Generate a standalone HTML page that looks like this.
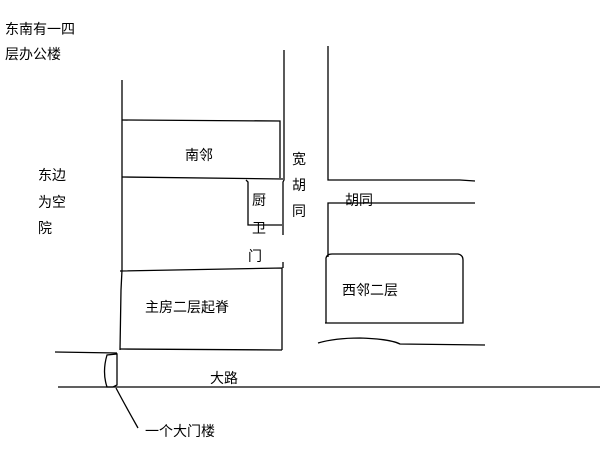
<!DOCTYPE html>
<html><head><meta charset="utf-8"><style>
html,body{margin:0;padding:0;background:#fff;}
svg{display:block;}
text{font-family:"Liberation Sans","Noto Sans CJK SC",sans-serif;font-size:14px;fill:#000;}
</style></head><body>
<svg width="614" height="460" viewBox="0 0 614 460" xmlns="http://www.w3.org/2000/svg">
<g fill="none" stroke="#000" stroke-width="1.3">
<!-- left long line -->
<path d="M122 80 L122 270 L121 290 L120 350"/>
<!-- south neighbor -->
<path d="M122 120 L280 121 L280 178"/>
<path d="M122 177 L283 179"/>
<!-- wide hutong left line -->
<path d="M284 50 L284 180 L283 182 L283 235"/>
<path d="M283 262 L283 268"/>
<!-- kitchen -->
<path d="M246 180 L248 182 L248 225 L282 225"/>
<!-- main house -->
<path d="M120 271 L282 268 L282 350"/>
<path d="M120 349 L282 350"/>
<!-- right block -->
<path d="M328 46 L328 180 L460 180 L475 181"/>
<path d="M328 257 L328 203 L475 203"/>
<!-- west neighbor -->
<path d="M326 323 L326 258 Q327 254 332 254 L458 254 Q463 255 463 260 L463 323 L325 323"/>
<!-- wavy line -->
<path d="M318 343 Q335 338 360 338 Q390 339 400 344 L485 345"/>
<!-- road -->
<path d="M55 352 L117 353"/>
<path d="M58 387 L600 387"/>
<!-- gate -->
<path d="M117 354 L117 385 L113 387 L107 387 Q102 372 107 355 Z"/>
<!-- pointer -->
<path d="M116 388 Q125 405 138 428"/>
</g>
<text x="5" y="34">东南有一四</text>
<text x="5" y="59">层办公楼</text>
<text x="38" y="180">东边</text>
<text x="38" y="207">为空</text>
<text x="38" y="233">院</text>
<text x="185" y="160">南邻</text>
<text x="292" y="164">宽</text>
<text x="292" y="190">胡</text>
<text x="292" y="216">同</text>
<text x="345" y="205">胡同</text>
<text x="252" y="205">厨</text>
<text x="252" y="233">卫</text>
<text x="248" y="261">门</text>
<text x="145" y="312">主房二层起脊</text>
<text x="342" y="295">西邻二层</text>
<text x="210" y="383">大路</text>
<text x="145" y="436">一个大门楼</text>
</svg>
</body></html>
